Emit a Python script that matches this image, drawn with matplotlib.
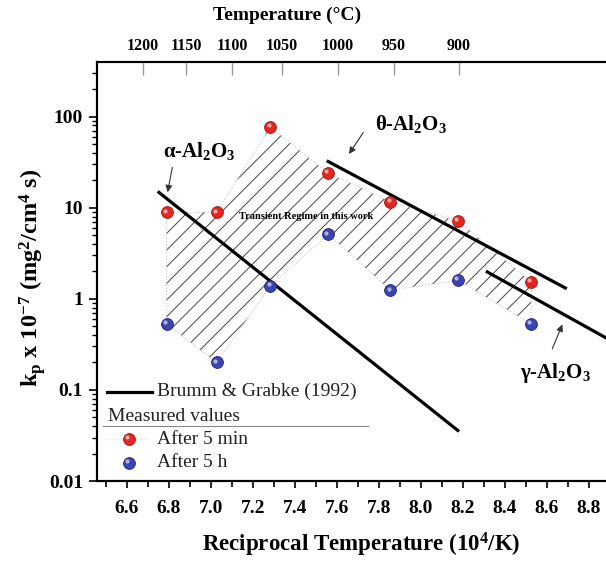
import matplotlib
matplotlib.use('Agg')
import matplotlib.pyplot as plt
import matplotlib.transforms as mtransforms
from matplotlib.ticker import MultipleLocator, NullFormatter, NullLocator
import numpy as np

plt.rcParams['font.family'] = 'Liberation Serif'
plt.rcParams['mathtext.fontset'] = 'custom'
plt.rcParams['mathtext.rm'] = 'Liberation Serif:bold'
plt.rcParams['mathtext.bf'] = 'Liberation Serif:bold'
plt.rcParams['mathtext.it'] = 'Liberation Serif:italic:bold'
plt.rcParams['mathtext.default'] = 'bf'
plt.rcParams['hatch.linewidth'] = 0.7

# measured parabolic rate constants
temp_c = [1200, 1150, 1100, 1050, 1000, 950, 900]
kp_5min = [8.9, 8.9, 77, 24, 11.7, 7.2, 1.53]
kp_5h = [0.53, 0.20, 1.38, 5.1, 1.24, 1.6, 0.53]

# Brumm & Grabke (1992) lines
alpha_x = [6.746, 8.181]
alpha_kp = [15.1, 0.035]
theta_x = [7.551, 8.694]
theta_kp = [32.8, 1.29]
gamma_x = [8.309, 8.99]
gamma_kp = [2.01, 0.27]

x_ticks = [6.6, 6.8, 7.0, 7.2, 7.4, 7.6, 7.8, 8.0, 8.2, 8.4, 8.6, 8.8]
y_ticks = [0.01, 0.1, 1, 10, 100]
y_tick_labels = ['0.01', '0.1', '1', '10', '100']
top_tick_x = [6.676, 6.881, 7.100, 7.338, 7.605, 7.871, 8.181]
top_tick_labels = ['1200', '1150', '1100', '1050', '1000', '950', '900']

red = '#e3261f'
red_edge = '#9c1410'
blue = '#3b45b2'
blue_edge = '#1d2472'


def balls(ax, x, y, color, edge, transform):
    ax.plot(x, y, 'o', ms=8.5, color=color, mec=edge, mew=0.6,
            transform=transform, zorder=5, clip_on=False)
    hi = mtransforms.offset_copy(transform, fig=ax.figure, x=-1.3, y=1.3, units='points')
    ax.plot(x, y, 'o', ms=3, color='white', alpha=0.6, mew=0,
            transform=hi, zorder=6, clip_on=False)


def main():
    recip = 1e4 / (np.array(temp_c) + 273.15)
    lo = np.array(kp_5h)
    hi = np.array(kp_5min)

    fig = plt.figure(figsize=(6.06, 5.61), dpi=100)
    ax = fig.add_axes([97 / 606, 80 / 561, 533 / 606, 419 / 561])
    ax.set_yscale('log')
    ax.set_xlim(6.457, 8.995)
    ax.set_ylim(0.01, 398)

    # transient regime band
    ax.fill_between(recip, lo, hi, facecolor='none', edgecolor='#444444',
                    hatch='//', linewidth=0, zorder=1)
    bx = np.concatenate([recip, recip[::-1], recip[:1]])
    by = np.concatenate([hi, lo[::-1], hi[:1]])
    ax.plot(bx, by, ls=':', color='#c8c8c8', lw=0.8, zorder=1)

    lw = 2.3
    ax.plot(alpha_x, alpha_kp, color='k', lw=lw, solid_capstyle='butt', zorder=3)
    ax.plot(theta_x, theta_kp, color='k', lw=lw, solid_capstyle='butt', zorder=3)
    ax.plot(gamma_x, gamma_kp, color='k', lw=lw, solid_capstyle='butt', zorder=3)

    balls(ax, recip, hi, red, red_edge, ax.transData)
    balls(ax, recip, lo, blue, blue_edge, ax.transData)

    ax.text(7.455, 8.05, 'Transient Regime in this work', fontsize=7.5,
            fontweight='bold', ha='center', va='center', zorder=4)

    arrow = dict(arrowstyle='-|>', color='#333333', lw=0.8, mutation_scale=10,
                 shrinkA=0, shrinkB=0)
    ax.annotate('', xy=(6.793, 14.8), xytext=(6.8156, 27.7), arrowprops=arrow)
    ax.annotate('', xy=(7.657, 38.9), xytext=(7.725, 67.1), arrowprops=arrow)
    ax.annotate('', xy=(8.673, 0.523), xytext=(8.625, 0.283), arrowprops=arrow)
    ax.text(6.773, 36.1, 'α-Al$_2$O$_3$', fontsize=15, fontweight='bold', va='baseline')
    ax.text(7.781, 70.6, 'θ-Al$_2$O$_3$', fontsize=15, fontweight='bold', va='baseline')
    ax.text(8.471, 0.136, 'γ-Al$_2$O$_3$', fontsize=15, fontweight='bold', va='baseline')

    # legend drawn by hand
    ta = ax.transAxes
    ax.plot([0.018, 0.1027], [0.213, 0.213], color='k', lw=lw, transform=ta)
    ax.text(0.112, 0.213, 'Brumm & Grabke (1992)', fontsize=14, va='center',
            transform=ta, color='#222222')
    ax.text(0.0206, 0.155, 'Measured values', fontsize=14, va='center',
            transform=ta, color='#222222')
    ax.plot([0.0107, 0.5077], [0.132, 0.132], color='#888888', lw=0.8, transform=ta)
    ax.plot([0.016, 0.1], [0.100, 0.100], ls=':', color='#dddddd', lw=0.8, transform=ta)
    balls(ax, [0.060], [0.100], red, red_edge, ta)
    balls(ax, [0.060], [0.0437], blue, blue_edge, ta)
    ax.text(0.112, 0.100, 'After 5 min', fontsize=14, va='center', transform=ta,
            color='#222222')
    ax.text(0.112, 0.0437, 'After 5 h', fontsize=14, va='center', transform=ta,
            color='#222222')

    # bottom and left axes
    ax.set_xticks(x_ticks)
    ax.set_xticklabels(['%.1f' % v for v in x_ticks], fontsize=14, fontweight='bold')
    ax.xaxis.set_minor_locator(MultipleLocator(0.1))
    ax.set_yticks(y_ticks)
    ax.set_yticklabels(y_tick_labels, fontsize=14, fontweight='bold')
    ax.yaxis.set_minor_formatter(NullFormatter())
    ax.tick_params(axis='x', which='major', direction='out', length=5, width=1.2, pad=9)
    ax.tick_params(axis='x', which='minor', direction='out', length=4, width=1.2)
    ax.tick_params(axis='y', which='major', direction='out', length=6, width=1.2, pad=4)
    ax.tick_params(axis='y', which='minor', direction='out', length=3.5, width=1)
    for s in ax.spines.values():
        s.set_linewidth(1.5)

    ax.set_xlabel('Reciprocal Temperature (10$^4$/K)', fontsize=16.5, fontweight='bold')
    ax.xaxis.set_label_coords((361 - 97) / 533, (481 - 531) / 419)
    fig.text(33 / 606, 1 - 278 / 561, r'k$_p$ x 10$^{-7}$ (mg$^2$/cm$^4$ s)',
             rotation=90, ha='center', va='center', fontsize=17.5, fontweight='bold')

    # top temperature axis
    ax2 = ax.twiny()
    ax2.set_xlim(ax.get_xlim())
    ax2.set_xticks(top_tick_x)
    ax2.set_xticklabels(top_tick_labels, fontsize=11.5, fontweight='bold')
    ax2.xaxis.set_minor_locator(NullLocator())
    ax2.tick_params(axis='x', direction='in', length=9, width=1, color='#999999', pad=6)
    for s in ax2.spines.values():
        s.set_linewidth(1.5)
    fig.text(287 / 606, 1 - 15 / 561, 'Temperature (°C)', ha='center', va='center',
             fontsize=14, fontweight='bold')

    fig.savefig('out.png', dpi=100)


if __name__ == '__main__':
    main()
